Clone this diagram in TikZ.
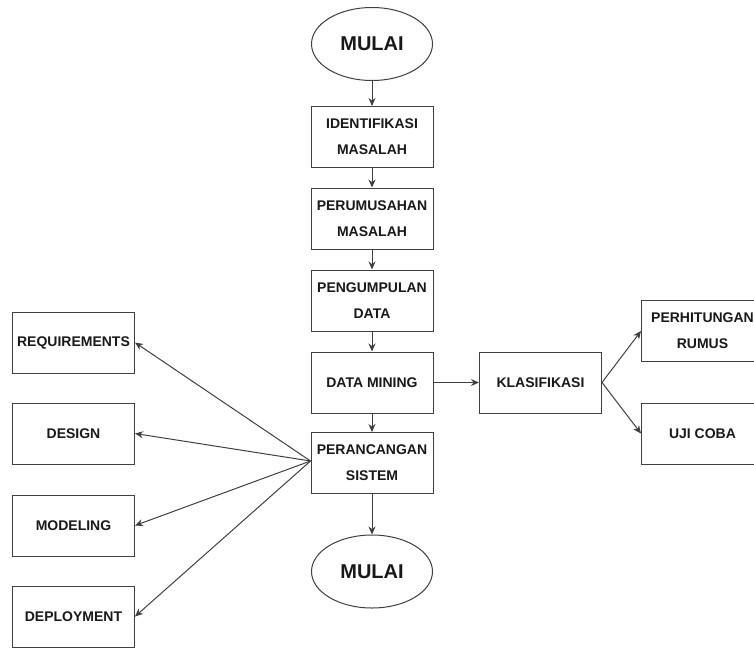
\documentclass[tikz,border=0pt]{standalone}
\usepackage{fontspec}
\setmainfont{Liberation Sans}
\usetikzlibrary{arrows.meta,shapes.geometric}
\begin{document}
\begin{tikzpicture}[x=1pt,y=-1pt,
  line width=1pt,
  every node/.style={font=\fontsize{14}{26}\selectfont\bfseries, text=black!90},
  procbox/.style={draw=black!75, fill=white, minimum width=122pt, minimum height=61pt,
    inner sep=0pt, align=center},
  terminal/.style={draw=black!75, ellipse, minimum width=121pt, minimum height=73pt,
    inner sep=0pt, font=\fontsize{20}{24}\selectfont\bfseries},
  link/.style={draw=black!75, -{Stealth[length=8pt,width=7pt]}}]
\useasboundingbox (0,0) rectangle (754,648);
\clip (0,0) rectangle (754,648);

% main column
\node[terminal] (start) at (372,44) {MULAI};
\node[procbox] (ident) at (372,137) {IDENTIFIKASI\\MASALAH};
\node[procbox] (rumus) at (372,218.5) {PERUMUSAHAN\\MASALAH};
\node[procbox] (kumpul) at (372,300.5) {PENGUMPULAN\\DATA};
\node[procbox] (mining) at (372,382.5) {DATA MINING};
\node[procbox] (rancang) at (372,463) {PERANCANGAN\\SISTEM};
\node[terminal] (finish) at (372,571.5) {MULAI};

% classification branch
\node[procbox] (klas) at (540.5,382.5) {KLASIFIKASI};
\node[procbox] (hitung) at (702.5,331) {PERHITUNGAN\\RUMUS};
\node[procbox] (uji) at (702.5,433.5) {UJI COBA};

% development stages
\node[procbox] (req) at (73.5,342.5) {REQUIREMENTS};
\node[procbox] (des) at (73.5,433.5) {DESIGN};
\node[procbox] (mod) at (73.5,525.5) {MODELING};
\node[procbox] (dep) at (73.5,616.5) {DEPLOYMENT};

% main flow
\draw[link] (start) -- (ident);
\draw[link] (ident) -- (rumus);
\draw[link] (rumus) -- (kumpul);
\draw[link] (kumpul) -- (mining);
\draw[link] (mining) -- (rancang);
\draw[link] (rancang) -- (finish);

\draw[link] (mining) -- (klas);
\draw[link] (klas.east) -- (hitung.west);
\draw[link] (klas.east) -- (uji.west);

\coordinate (fan) at ([yshift=2pt]rancang.west);
\draw[link] (fan) -- (req.east);
\draw[link] (fan) -- (des.east);
\draw[link] (fan) -- (mod.east);
\draw[link] (fan) -- (dep.east);
\end{tikzpicture}
\end{document}
